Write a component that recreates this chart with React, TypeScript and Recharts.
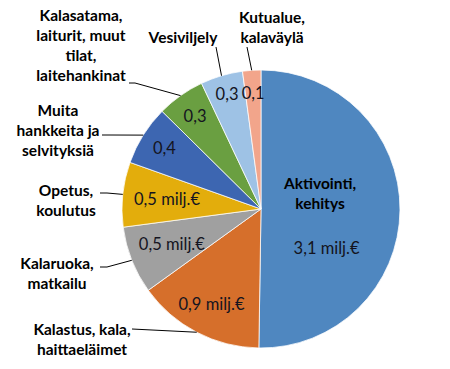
import { PieChart, Pie, Cell } from 'recharts';

// categories (line-broken the way they are set on the chart)
const categories = [
  ['Aktivointi,', 'kehitys'],
  ['Kalastus, kala,', 'haittaeläimet'],
  ['Kalaruoka,', 'matkailu'],
  ['Opetus,', 'koulutus'],
  ['Muita', 'hankkeita ja', 'selvityksiä'],
  ['Kalasatama,', 'laiturit, muut', 'tilat,', 'laitehankinat'],
  ['Vesiviljely'],
  ['Kutualue,', 'kalaväylä'],
];

// milj. €
const values = [3.07, 0.905, 0.48, 0.46, 0.425, 0.34, 0.3, 0.13];
const units = [' milj.€', ' milj.€', ' milj.€', ' milj.€', '', '', '', ''];

const colors = ['#4f87c0', '#d66f2b', '#a0a0a0', '#e3ad0c', '#3d66b1', '#6a9f41', '#9ec2e5', '#f2a58b'];

// label layout
const valueRadius = [0.55, 0.77, 0.69, 0.68, 0.82, 0.82, 0.86, 0.84];
const valueShift = [30.5, 0, 0, 0, 0, 0, 0, 0];
const nameBox = [
  { x: 320, y: 183, ax: null, ay: null, elbow: 0 },
  { x: 82, y: 329, ax: 132, ay: 329, elbow: 0 },
  { x: 57, y: 263, ax: 100, ay: 267, elbow: 7 },
  { x: 66, y: 190, ax: 100, ay: 193, elbow: 7 },
  { x: 58, y: 110, ax: 102, ay: 135, elbow: 7 },
  { x: 81, y: 15, ax: 129, ay: 83, elbow: 6 },
  { x: 183, y: 37, ax: 216, ay: 47, elbow: 0 },
  { x: 272, y: 17, ax: 247, ay: 47, elbow: 0 },
];

const data = values.map((v, i) => ({ name: categories[i].join(' '), value: v }));

const RAD = Math.PI / 180;
const font = 'Lato, "Open Sans", sans-serif';

const fmt = (v) => v.toFixed(1).replace('.', ',');

function renderLabel(props) {
  const { cx, cy, midAngle, outerRadius, index } = props;
  const ang = midAngle - valueShift[index];
  const vr = outerRadius * valueRadius[index];
  const vx = cx + vr * Math.cos(-ang * RAD);
  const vy = cy + vr * Math.sin(-ang * RAD);
  const ex = cx + outerRadius * Math.cos(-midAngle * RAD);
  const ey = cy + outerRadius * Math.sin(-midAngle * RAD);
  const box = nameBox[index];
  const lines = categories[index];
  return (
    <g key={'lbl' + index}>
      <text x={vx} y={vy} textAnchor="middle" dominantBaseline="central" fill="#141420" fontSize={16.5} fontFamily={font}>
        {fmt(values[index]) + units[index]}
      </text>
      {lines.map((t, j) => (
        <text
          key={j}
          x={box.x}
          y={box.y + j * 20}
          textAnchor="middle"
          dominantBaseline="central"
          fill="#000"
          fontSize={15.5}
          fontWeight="bold"
          fontFamily={font}
        >
          {t}
        </text>
      ))}
      {box.ax != null && (
        <polyline
          points={`${box.ax},${box.ay} ${box.ax + box.elbow},${box.ay} ${ex},${ey}`}
          fill="none"
          stroke="#000"
          strokeWidth={1}
        />
      )}
    </g>
  );
}

export default function App() {
  return (
    <div style={{ position: 'absolute', left: 0, top: 0, width: 450, height: 369, background: '#fff' }}>
      <PieChart width={450} height={369}>
        <Pie
          data={data}
          dataKey="value"
          nameKey="name"
          cx={256}
          cy={204}
          outerRadius={139}
          startAngle={90}
          endAngle={-270}
          stroke="#fff"
          strokeWidth={0.75}
          label={renderLabel}
          labelLine={false}
          isAnimationActive={false}
        >
          {data.map((d, i) => (
            <Cell key={i} fill={colors[i]} />
          ))}
        </Pie>
      </PieChart>
    </div>
  );
}
